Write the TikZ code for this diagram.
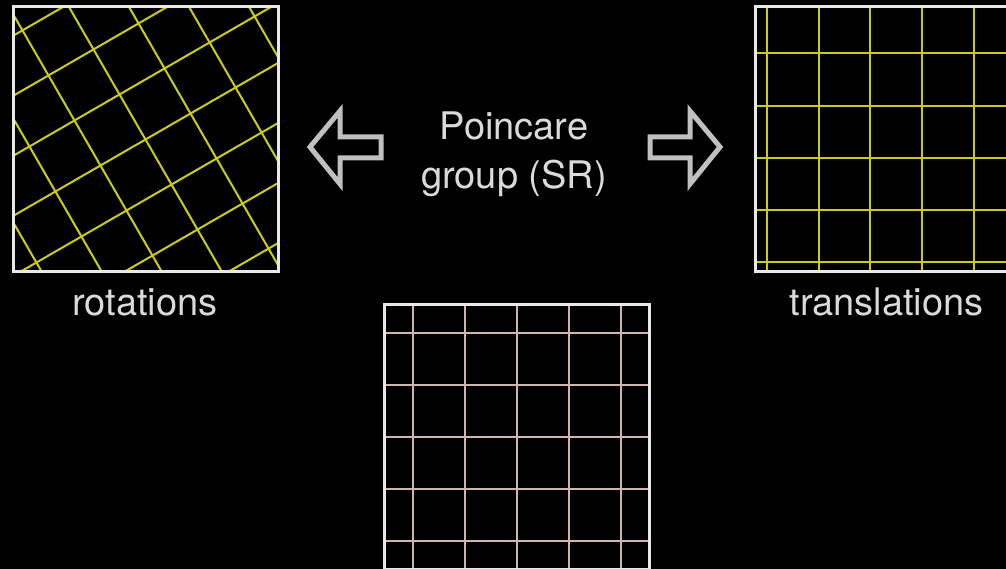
\documentclass[tikz,border=0pt]{standalone}
\usepackage{fontspec}
\setmainfont{TeX Gyre Heros}
\begin{document}
\begin{tikzpicture}[x=1pt,y=-1pt,
  frame/.style={draw={rgb,255:red,232;green,232;blue,232},line width=3pt},
  ygrid/.style={draw={rgb,255:red,205;green,205;blue,25},line width=2pt},
  pgrid/.style={draw={rgb,255:red,205;green,182;blue,176},line width=2pt},
  hollowarrow/.style={draw={rgb,255:red,192;green,192;blue,192},line width=5pt,line join=miter,fill=black},
  lbl/.style={text={rgb,255:red,218;green,218;blue,218},font=\fontsize{38}{49}\selectfont,inner sep=0pt}]
\fill[black] (0,0) rectangle (1006,569);
\useasboundingbox (0,0) rectangle (1006,569);
\clip (0,0) rectangle (1006,569);

% left box: rotations
\begin{scope}
  \clip (13,7) rectangle (278,272);
  \begin{scope}[shift={(145.5,139.5)},rotate=30]
    \foreach \k in {-4,...,4} {
      \draw[ygrid] (-220,52*\k) -- (220,52*\k);
      \draw[ygrid] (52*\k,-220) -- (52*\k,220);
    }
  \end{scope}
\end{scope}
\node[frame,minimum size=265pt,inner sep=0pt] (rotbox) at (145.5,139.5) {};

% right box: translations
\begin{scope}
  \clip (755,7) rectangle (1020,272);
  \foreach \x in {767,818.5,870,922,974} \draw[ygrid] (\x,0) -- (\x,280);
  \foreach \y in {53,106,158,210,262} \draw[ygrid] (740,\y) -- (1020,\y);
\end{scope}
\node[frame,minimum size=265pt,inner sep=0pt] (trabox) at (887.5,139.5) {};

% bottom box
\begin{scope}
  \clip (384,304) rectangle (649,569);
  \foreach \x in {413,465,517,569,621} \draw[pgrid] (\x,300) -- (\x,575);
  \foreach \y in {333,385,437,489,541} \draw[pgrid] (380,\y) -- (652,\y);
\end{scope}
\node[frame,minimum size=265pt,inner sep=0pt] (basebox) at (516.5,436.5) {};

% hollow arrows
\draw[hollowarrow] (310,147) -- (340,111) -- (340,137) -- (381,137) -- (381,158) -- (340,158) -- (340,184) -- cycle;
\draw[hollowarrow] (720,147) -- (690,111) -- (690,137) -- (650,137) -- (650,158) -- (690,158) -- (690,184) -- cycle;

% labels
\node[lbl,align=center] (poinc) at (514,154) {Poincare\\group (SR)};
\node[lbl,anchor=base] (rotlbl) at (145,315) {rotations};
\node[lbl,anchor=base] (tralbl) at (886.5,315) {translations};
\end{tikzpicture}
\end{document}
